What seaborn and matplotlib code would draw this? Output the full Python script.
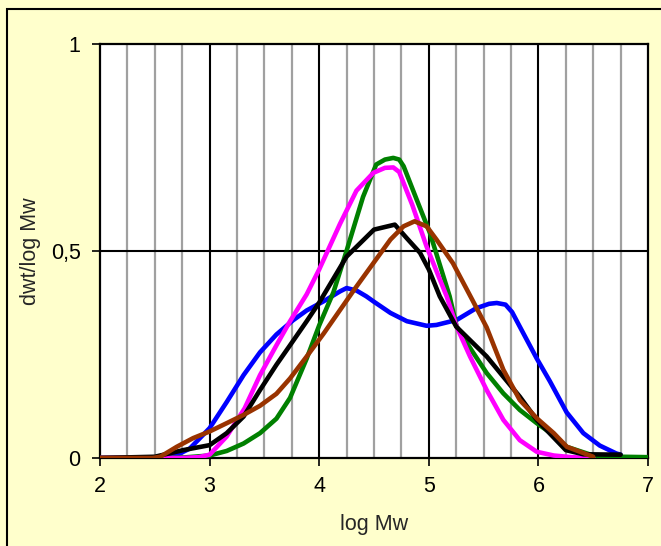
"""
Molecular weight distribution curves (dwt/log Mw vs log Mw)
"""

import numpy as np
import matplotlib
matplotlib.use('Agg')
import matplotlib.pyplot as plt
from matplotlib.patches import Rectangle
from matplotlib.ticker import FixedLocator
import seaborn as sns

# Data
blue_x = [2.0, 2.5, 2.70, 2.82, 3.0, 3.156, 3.31, 3.46, 3.61, 3.76, 3.886, 4.04, 4.19,
          4.25, 4.34, 4.43, 4.494, 4.65, 4.80, 4.98, 5.07, 5.254, 5.43, 5.55, 5.62, 5.70,
          5.76, 5.83, 5.985, 6.105, 6.258, 6.41, 6.56, 6.71, 6.75]
blue_y = [0.0, 0.001, 0.007, 0.023, 0.072, 0.135, 0.2, 0.255, 0.298, 0.332, 0.356, 0.378, 0.402,
          0.41, 0.404, 0.39, 0.378, 0.35, 0.33, 0.319, 0.321, 0.333, 0.361, 0.372, 0.374, 0.370,
          0.352, 0.317, 0.24, 0.185, 0.11, 0.06, 0.03, 0.011, 0.008]

green_x = [2.0, 2.5, 2.75, 3.0, 3.156, 3.31, 3.46, 3.61, 3.734, 3.886, 4.0, 4.13, 4.25, 4.40,
           4.52, 4.60, 4.676, 4.73, 4.77, 4.89, 5.01, 5.19, 5.254, 5.39, 5.528, 5.68, 5.83,
           5.985, 6.14, 6.258, 6.5, 6.75, 7.0]
green_y = [0.0, 0.0, 0.001, 0.006, 0.017, 0.035, 0.06, 0.095, 0.145, 0.24, 0.32, 0.40, 0.50, 0.63,
           0.708, 0.72, 0.724, 0.72, 0.704, 0.623, 0.543, 0.39, 0.317, 0.26, 0.205, 0.156, 0.116,
           0.084, 0.055, 0.027, 0.006, 0.003, 0.002]

magenta_x = [2.0, 2.5, 2.75, 2.9, 3.0, 3.156, 3.32, 3.46, 3.61, 3.734, 3.886, 4.0, 4.19,
             4.34, 4.494, 4.60, 4.676, 4.73, 4.85, 4.98, 5.163, 5.254, 5.376, 5.528, 5.68,
             5.83, 5.985, 6.14, 6.3, 6.5]
magenta_y = [0.0, 0.0, 0.0, 0.002, 0.008, 0.052, 0.12, 0.2, 0.272, 0.33, 0.395, 0.455, 0.565,
             0.645, 0.688, 0.70, 0.701, 0.69, 0.61, 0.51, 0.39, 0.317, 0.245, 0.164, 0.092,
             0.043, 0.015, 0.006, 0.002, 0.0]

black_x = [2.0, 2.5, 2.76, 3.0, 3.156, 3.31, 3.46, 3.61, 3.734, 3.886, 4.0, 4.25, 4.5, 4.69,
           4.8, 4.92, 5.0, 5.10, 5.25, 5.528, 5.68, 5.83, 5.985, 6.25, 6.41, 6.75]
black_y = [0.0, 0.003, 0.019, 0.031, 0.06, 0.10, 0.164, 0.225, 0.272, 0.33, 0.375, 0.486, 0.551, 0.563,
           0.53, 0.495, 0.455, 0.39, 0.317, 0.245, 0.196, 0.148, 0.092, 0.019, 0.009, 0.008]

brown_x = [2.0, 2.25, 2.48, 2.55, 2.70, 2.85, 3.0, 3.156, 3.31, 3.46, 3.61, 3.734, 3.886, 4.04,
           4.19, 4.33, 4.494, 4.65, 4.77, 4.87, 4.98, 5.07, 5.22, 5.34, 5.40, 5.528, 5.68,
           5.83, 5.985, 6.14, 6.26, 6.5]
brown_y = [0.0, 0.0, 0.0, 0.003, 0.027, 0.048, 0.064, 0.084, 0.104, 0.126, 0.155, 0.192, 0.245, 0.30,
           0.357, 0.41, 0.47, 0.527, 0.559, 0.571, 0.559, 0.527, 0.47, 0.41, 0.38, 0.315, 0.213,
           0.14, 0.096, 0.06, 0.027, 0.003]

x_ticks = [2, 3, 4, 5, 6, 7]
y_ticks = [0, 0.5, 1]
y_tick_labels = ['0', '0,5', '1']

series = [
    (blue_x, blue_y, '#0000FF'),
    (green_x, green_y, '#008000'),
    (magenta_x, magenta_y, '#FF00FF'),
    (black_x, black_y, '#000000'),
    (brown_x, brown_y, '#993300'),
]

sns.set_style('white')
plt.rcParams['font.family'] = ['Liberation Sans', 'DejaVu Sans']

fig = plt.figure(figsize=(6.61, 5.46), dpi=100, facecolor='#FFFFCC')
ax = fig.add_axes([100 / 661, 88 / 546, 548 / 661, 414.5 / 546])
ax.set_facecolor('white')

# Grid: grey minor lines every 0.25, black major lines
minor_x = np.arange(2.25, 7.0, 0.25)
for mx in minor_x:
    if abs(mx - round(mx)) > 1e-6:
        ax.axvline(mx, color='#A0A0A0', lw=1.6, zorder=1)
for xt in x_ticks[1:-1]:
    ax.axvline(xt, color='black', lw=1.5, zorder=1.5)
ax.axhline(0.5, color='black', lw=1.5, zorder=1.5)

for xs, ys, col in series:
    sns.lineplot(x=xs, y=ys, color=col, lw=3.3, ax=ax, estimator=None, sort=False,
                 solid_capstyle='round', solid_joinstyle='round', zorder=3)

ax.set_xlim(2, 7)
ax.set_ylim(0, 1)
ax.xaxis.set_major_locator(FixedLocator(x_ticks))
ax.set_xticklabels([str(t) for t in x_ticks])
ax.set_yticks(y_ticks)
ax.set_yticklabels(y_tick_labels)
ax.tick_params(axis='both', direction='out', length=6, width=1.2, colors='black',
               labelsize=15.5, bottom=True, left=True)
ax.tick_params(axis='x', pad=7)
ax.tick_params(axis='y', pad=8)

for sp in ax.spines.values():
    sp.set_visible(True)
    sp.set_color('black')
    sp.set_linewidth(1.6)

ax.set_xlabel('log Mw', fontsize=15.5)
ax.set_ylabel('dwt/log Mw', fontsize=15.5)
ax.xaxis.set_label_coords(0.5, -0.135)
ax.yaxis.set_label_coords(-0.107, 0.5)

# Outer chart border
fig.patches.append(Rectangle((7 / 661, -0.01), 1.0, 1 - 9 / 546 + 0.01,
                             transform=fig.transFigure, fill=False,
                             edgecolor='black', lw=1.5))

plt.savefig('out.png', dpi=100, facecolor=fig.get_facecolor())
